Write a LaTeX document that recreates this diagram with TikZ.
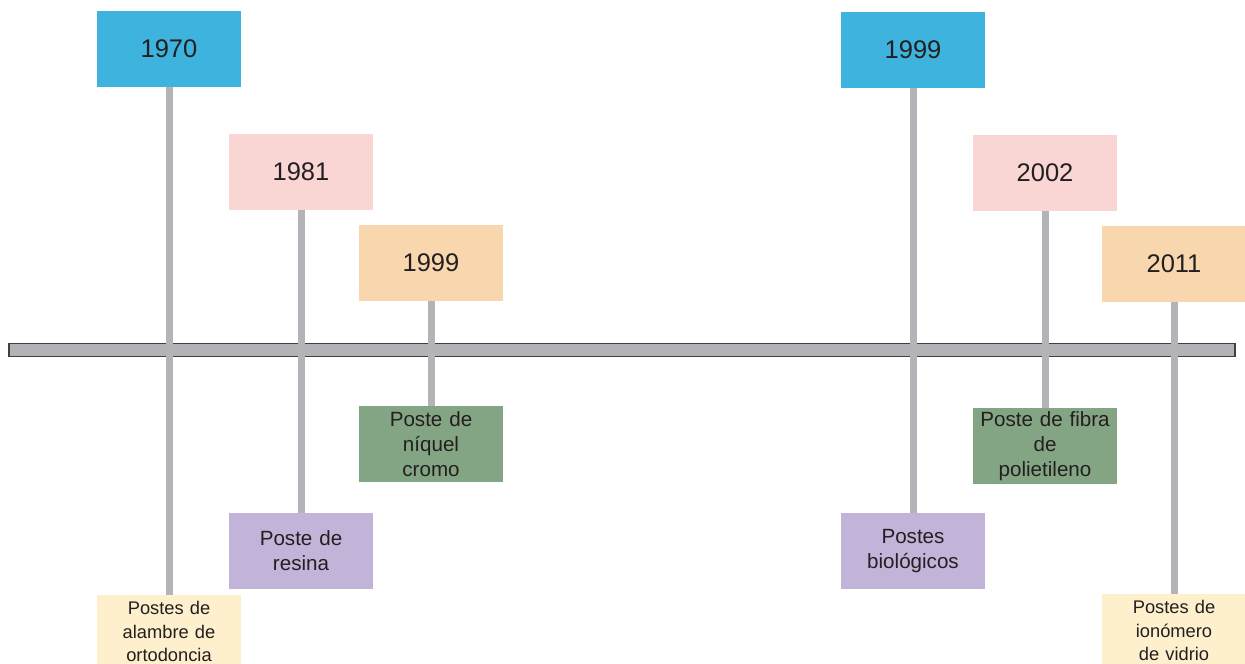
\documentclass[tikz,border=0pt]{standalone}
\usepackage{fontspec}
\setmainfont{Liberation Sans}
\definecolor{cblue}{HTML}{3EB3DE}
\definecolor{cpink}{HTML}{F9D6D3}
\definecolor{corange}{HTML}{F9D7AE}
\definecolor{cgreen}{HTML}{84A584}
\definecolor{cpurple}{HTML}{C2B3D9}
\definecolor{cyellow}{HTML}{FEF0CC}
\definecolor{cline}{HTML}{B4B4B8}
\definecolor{cbar}{HTML}{B3B3B7}
\definecolor{cborder}{HTML}{404040}
\definecolor{ctext}{HTML}{231F20}
\tikzset{
  box/.style={inner sep=0pt, minimum width=144pt, minimum height=76pt, text width=140pt, align=center, text=ctext},
  year/.style={box, font=\fontsize{25.5}{30}\selectfont},
  body/.style={box, font=\fontsize{20.6}{25}\selectfont},
  small/.style={box, minimum height=73pt, font=\fontsize{18.3}{23.3}\selectfont},
  conn/.style={draw=cline, line width=7pt},
}
\begin{document}
\begin{tikzpicture}[x=1pt,y=-1pt]
\useasboundingbox (0,0) rectangle (1245,664);
\clip (0,0) rectangle (1245,664);
% year boxes
\node[year, fill=cblue] (y1970) at (169,49) {1970};
\node[year, fill=cpink] (y1981) at (301,172) {1981};
\node[year, fill=corange] (y1999a) at (431,263) {1999};
\node[year, fill=cblue] (y1999b) at (913,50) {1999};
\node[year, fill=cpink] (y2002) at (1045,173) {2002};
\node[year, fill=corange] (y2011) at (1174,264) {2011};
% content boxes
\node[small, fill=cyellow] (orto) at (169,631.5) {Postes de\\alambre de\\ortodoncia};
\node[body, fill=cpurple] (resina) at (301,551) {Poste de\\resina};
\node[body, fill=cgreen] (niquel) at (431,444) {Poste de\\níquel\\cromo};
\node[body, fill=cpurple] (bio) at (913,551) {Postes\\biológicos};
\node[body, fill=cgreen] (fibra) at (1045,446) {Poste de fibra\\de\\polietileno};
\node[small, fill=cyellow] (iono) at (1174,630.5) {Postes de\\ionómero\\de vidrio};
% timeline bar
\node[draw=cborder, line width=1.5pt, fill=cbar, inner sep=0pt, minimum width=1226pt, minimum height=13pt] (bar) at (622,350) {};
% connectors
\draw[conn] (y1970) -- (orto);
\draw[conn] (y1981) -- (resina);
\draw[conn] (y1999a) -- (niquel);
\draw[conn] (y1999b) -- (bio);
\draw[conn] (y2002) -- (fibra);
\draw[conn] (y2011) -- (iono);
\end{tikzpicture}
\end{document}
